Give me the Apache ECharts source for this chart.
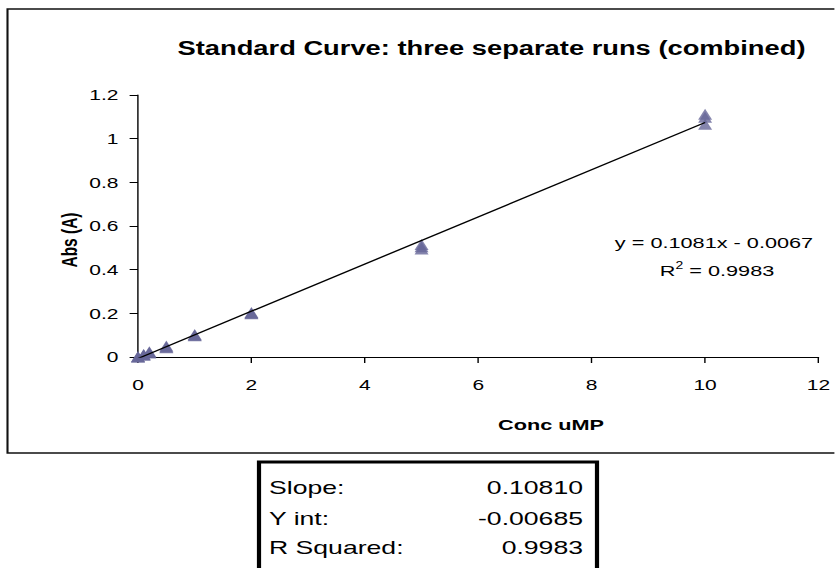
<!DOCTYPE html>
<html>
<head>
<meta charset="utf-8">
<script src="https://cdn.jsdelivr.net/npm/echarts@6/dist/echarts.min.js"></script>
<style>
  html, body { margin: 0; padding: 0; background: #fff; overflow: hidden; }
  #wrap { width: 835px; height: 568px; overflow: hidden; position: relative; }
  #chart { width: 596.43px; height: 568px; transform: scaleX(1.4); transform-origin: 0 0; }
</style>
</head>
<body>
<div id="wrap"><div id="chart"></div></div>
<script>
// ---- data ----
const conc = [0, 0.1, 0.2, 0.5, 1, 2, 5, 10];
const run1 = [0.000, 0.010, 0.021, 0.046, 0.100, 0.200, 0.495, 1.112];
const run2 = [0.002, 0.012, 0.018, 0.050, 0.097, 0.204, 0.505, 1.098];
const run3 = [0.000, 0.008, 0.024, 0.042, 0.103, 0.198, 0.515, 1.066];
const fitSlope = 0.1081;
const fitIntercept = -0.0067;
const fitR2 = 0.9983;
const fitRange = [0, 10];
const titleText = 'Standard Curve: three separate runs (combined)';
const xName = 'Conc uMP';
const yName = 'Abs (A)';
const tableLabels = ['Slope:', 'Y int:', 'R Squared:'];
const tableValues = ['0.10810', '-0.00685', '0.9983'];

const S = 1.4; // horizontal stretch of the reference
const FONT = '"Liberation Sans", Arial, sans-serif';

function pairs(xs, ys) { return xs.map((x, i) => [x, ys[i]]); }
const trend = fitRange.map(x => [x, fitSlope * x + fitIntercept]);

const runStyle = {
  type: 'scatter',
  symbol: 'triangle',
  symbolSize: [10, 11],
  itemStyle: { color: '#666699' },
  z: 3
};

const chart = echarts.init(document.getElementById('chart'), null, { renderer: 'svg' });

const graphics = [
  { type: 'rect', shape: { x: 7.5 / S, y: 9, width: 1000 / S, height: 444 },
    style: { fill: 'none', stroke: '#111', lineWidth: 1.5 }, z: 1 },
  { type: 'text', x: 491.5 / S, y: 48, style: { text: titleText, font: 'bold 19.5px ' + FONT,
    fill: '#000', textAlign: 'center', textVerticalAlign: 'middle' } },
  { type: 'text', x: 551 / S, y: 425, style: { text: xName, font: 'bold 15.5px ' + FONT,
    fill: '#000', textAlign: 'center', textVerticalAlign: 'middle' } },
  { type: 'text', x: 70 / S, y: 240, rotation: Math.PI / 2, style: { text: yName, font: 'bold 15.5px ' + FONT,
    fill: '#000', textAlign: 'center', textVerticalAlign: 'middle' } },
  { type: 'text', x: 714 / S, y: 243, style: {
    text: 'y = ' + fitSlope.toFixed(4) + 'x - ' + Math.abs(fitIntercept).toFixed(4),
    font: '15.5px ' + FONT, fill: '#000', textAlign: 'center', textVerticalAlign: 'middle' } },
  { type: 'text', x: 717 / S, y: 270, style: {
    text: '{n|R}{s|2}{n| = ' + fitR2.toFixed(4) + '}',
    textAlign: 'center', textVerticalAlign: 'middle',
    rich: {
      n: { fontSize: 15.5, fontFamily: FONT, fill: '#000', lineHeight: 18, verticalAlign: 'bottom' },
      s: { fontSize: 10, fontFamily: FONT, fill: '#000', lineHeight: 18, verticalAlign: 'top' }
    } } },
  { type: 'rect', shape: { x: 259 / S, y: 462, width: (597 - 259) / S, height: 200 },
    style: { fill: '#fff', stroke: '#000', lineWidth: 3 }, z: 2 }
];
const rowY = [487, 518, 547];
tableLabels.forEach((lab, i) => {
  graphics.push({ type: 'text', x: 269 / S, y: rowY[i], z: 3, style: { text: lab, font: '19px ' + FONT,
    fill: '#000', textAlign: 'left', textVerticalAlign: 'middle' } });
  graphics.push({ type: 'text', x: 583 / S, y: rowY[i], z: 3, style: { text: tableValues[i], font: '19px ' + FONT,
    fill: '#000', textAlign: 'right', textVerticalAlign: 'middle' } });
});

chart.setOption({
  animation: false,
  backgroundColor: '#fff',
  grid: { left: 138 / S, right: (835 - 822) / S, top: 95, bottom: 568 - 357, containLabel: false },
  xAxis: {
    type: 'value', min: 0, max: 12, interval: 2,
    axisLine: { show: true, onZero: false, lineStyle: { color: '#000', width: 1 } },
    axisTick: { show: true, inside: false, length: 6, lineStyle: { color: '#000', width: 1 } },
    axisLabel: { color: '#000', fontSize: 15, fontFamily: FONT, margin: 20 },
    splitLine: { show: false }
  },
  yAxis: {
    type: 'value', min: 0, max: 1.2, interval: 0.2,
    axisLine: { show: true, onZero: false, lineStyle: { color: '#000', width: 1 } },
    axisTick: { show: true, inside: false, length: 6, lineStyle: { color: '#000', width: 1 } },
    axisLabel: { color: '#000', fontSize: 15, fontFamily: FONT, margin: 14 },
    splitLine: { show: false }
  },
  series: [
    Object.assign({ name: 'Run 1', data: pairs(conc, run1) }, runStyle),
    Object.assign({ name: 'Run 2', data: pairs(conc, run2) }, runStyle),
    Object.assign({ name: 'Run 3', data: pairs(conc, run3) }, runStyle),
    { name: 'Linear fit', type: 'line', data: trend, symbol: 'none', z: 4,
      lineStyle: { color: '#000', width: 1.3 } }
  ],
  graphic: graphics
});
</script>
</body>
</html>
